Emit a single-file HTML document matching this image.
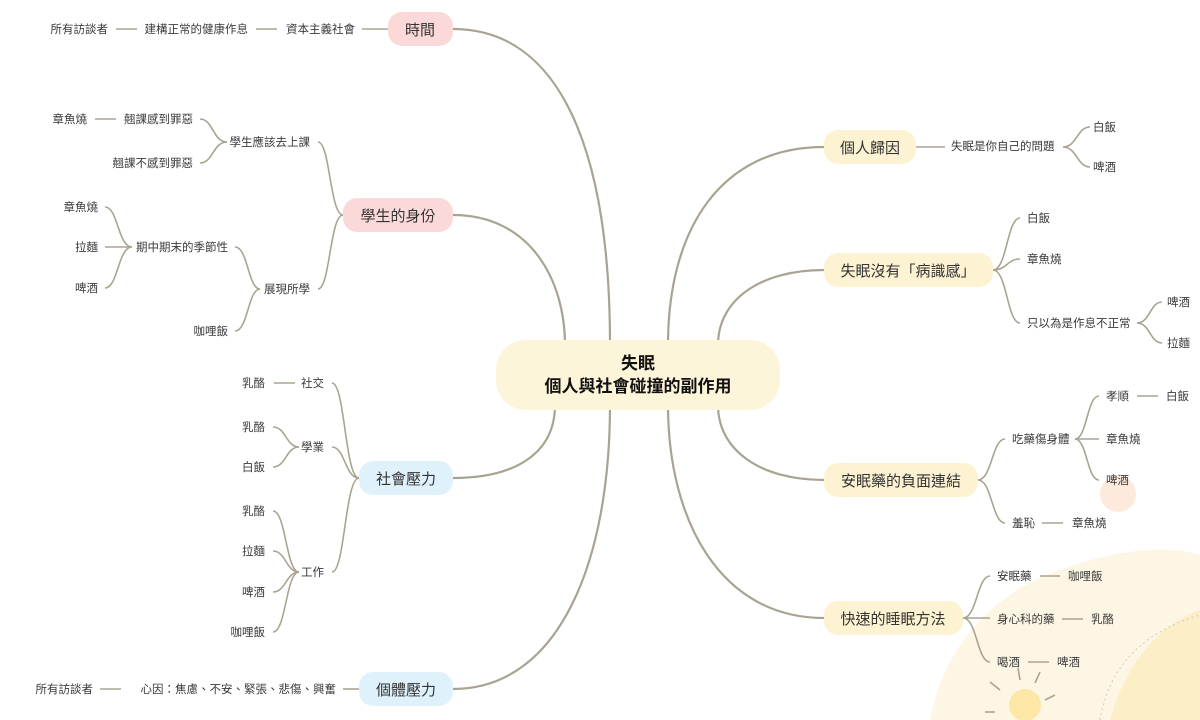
<!DOCTYPE html>
<html><head><meta charset="utf-8">
<style>
html,body{margin:0;padding:0;background:#fff;}
svg{display:block;font-family:"Liberation Sans","Noto Sans CJK TC",sans-serif;}
.l{font-size:11.5px;fill:#3a3a3a;}
.m{font-size:15px;fill:#333;}
.c{font-size:17px;font-weight:bold;fill:#111;}
path,line{fill:none;stroke:#a9a492;stroke-width:1.6;}
.mn{stroke-width:2.2;}
</style></head><body>
<svg width="1200" height="720" viewBox="0 0 1200 720">
<!-- decorations -->
<path d="M930,720 C945,640 1000,590 1060,570 C1120,548 1170,545 1200,555 L1200,720 Z" style="fill:#fdf6e4;stroke:none"/>
<path d="M1110,720 C1130,650 1170,620 1200,610 L1200,720 Z" style="fill:#fcefc8;stroke:none"/>
<path d="M1100,720 C1110,660 1150,630 1200,615" style="stroke:#ccc;stroke-dasharray:2 3;stroke-width:1"/>
<circle cx="1118" cy="494" r="18" style="fill:#fdeadc"/>
<circle cx="1025" cy="705" r="16" style="fill:#fde7a6"/>
<g style="stroke:#fcdb8a;stroke-width:2">
<line x1="1018" y1="668" x2="1020" y2="680"/><line x1="1040" y1="672" x2="1035" y2="683"/>
<line x1="990" y1="682" x2="1000" y2="690"/><line x1="1055" y1="695" x2="1045" y2="700"/>
<line x1="985" y1="712" x2="995" y2="712"/></g>
<!-- main curves -->
<path class="mn" d="M453,29 C560,29 610,150 610,345"/>
<path class="mn" d="M453,215 C530,215 565,280 565,345"/>
<path class="mn" d="M453,478 C520,478 555,450 555,405"/>
<path class="mn" d="M453,689 C560,689 610,560 610,405"/>
<path class="mn" d="M824,147 C720,147 668,230 668,345"/>
<path class="mn" d="M824,270 C760,270 718,300 718,345"/>
<path class="mn" d="M824,480 C760,480 718,450 718,405"/>
<path class="mn" d="M824,618 C720,618 668,520 668,405"/>
<!-- center -->
<rect x="496" y="340" width="284" height="70" rx="30" style="fill:#fdf5d9"/>
<text class="c" x="638" y="369" text-anchor="middle">失眠</text>
<text class="c" x="638" y="392" text-anchor="middle">個人與社會碰撞的副作用</text>
<!-- main nodes -->
<rect x="388" y="12" width="65" height="34" rx="14" style="fill:#fcd9d9"/>
<text class="m" x="420" y="35" text-anchor="middle">時間</text>
<rect x="343" y="198" width="110" height="34" rx="14" style="fill:#fcd9d9"/>
<text class="m" x="398" y="221" text-anchor="middle">學生的身份</text>
<rect x="359" y="461" width="94" height="34" rx="14" style="fill:#dff1fb"/>
<text class="m" x="406" y="484" text-anchor="middle">社會壓力</text>
<rect x="359" y="672" width="94" height="34" rx="14" style="fill:#dff1fb"/>
<text class="m" x="406" y="695" text-anchor="middle">個體壓力</text>
<rect x="824" y="130" width="92" height="34" rx="14" style="fill:#fdf3d3"/>
<text class="m" x="870" y="153" text-anchor="middle">個人歸因</text>
<rect x="824" y="253" width="169" height="34" rx="14" style="fill:#fdf3d3"/>
<text class="m" x="908" y="276" text-anchor="middle">失眠沒有「病識感」</text>
<rect x="824" y="463" width="154" height="34" rx="14" style="fill:#fdf3d3"/>
<text class="m" x="901" y="486" text-anchor="middle">安眠藥的負面連結</text>
<rect x="824" y="601" width="139" height="34" rx="14" style="fill:#fdf3d3"/>
<text class="m" x="893" y="624" text-anchor="middle">快速的睡眠方法</text>

<!-- 時間 -->
<line x1="362" y1="29" x2="388" y2="29"/><line x1="256" y1="29" x2="277" y2="29"/><line x1="116" y1="29" x2="137" y2="29"/>
<text class="l" x="355" y="33" text-anchor="end">資本主義社會</text>
<text class="l" x="248" y="33" text-anchor="end">建構正常的健康作息</text>
<text class="l" x="108" y="33" text-anchor="end">所有訪談者</text>
<!-- 學生 -->
<path d="M343,215 C330,215 330,142 318,142"/><path d="M343,215 C330,215 330,289 318,289"/>
<text class="l" x="310" y="146" text-anchor="end">學生應該去上課</text>
<text class="l" x="310" y="293" text-anchor="end">展現所學</text>
<path d="M227,142 C213,142 213,119 200,119"/><path d="M227,142 C213,142 213,163 200,163"/>
<text class="l" x="193" y="123" text-anchor="end">翹課感到罪惡</text>
<text class="l" x="193" y="167" text-anchor="end">翹課不感到罪惡</text>
<line x1="95" y1="119" x2="116" y2="119"/><text class="l" x="87" y="123" text-anchor="end">章魚燒</text>
<path d="M260,289 C248,289 248,247 235,247"/><path d="M260,289 C248,289 248,331 235,331"/>
<text class="l" x="228" y="251" text-anchor="end">期中期末的季節性</text>
<text class="l" x="228" y="335" text-anchor="end">咖哩飯</text>
<path d="M132,247 C118,247 118,207 105,207"/><path d="M132,247 L105,247"/><path d="M132,247 C118,247 118,288 105,288"/>
<text class="l" x="98" y="211" text-anchor="end">章魚燒</text>
<text class="l" x="98" y="251" text-anchor="end">拉麵</text>
<text class="l" x="98" y="292" text-anchor="end">啤酒</text>
<!-- 社會 -->
<path d="M359,478 C345,478 345,383 332,383"/><path d="M359,478 C345,478 345,447 332,447"/><path d="M359,478 C345,478 345,572 332,572"/>
<text class="l" x="324" y="387" text-anchor="end">社交</text>
<text class="l" x="324" y="451" text-anchor="end">學業</text>
<text class="l" x="324" y="576" text-anchor="end">工作</text>
<line x1="274" y1="383" x2="295" y2="383"/><text class="l" x="265" y="387" text-anchor="end">乳酪</text>
<path d="M299,447 C286,447 286,427 273,427"/><path d="M299,447 C286,447 286,467 273,467"/>
<text class="l" x="265" y="431" text-anchor="end">乳酪</text><text class="l" x="265" y="471" text-anchor="end">白飯</text>
<path d="M299,572 C286,572 286,511 273,511"/><path d="M299,572 C286,572 286,551 273,551"/><path d="M299,572 C286,572 286,592 273,592"/><path d="M299,572 C286,572 286,632 273,632"/>
<text class="l" x="265" y="515" text-anchor="end">乳酪</text><text class="l" x="265" y="555" text-anchor="end">拉麵</text>
<text class="l" x="265" y="596" text-anchor="end">啤酒</text><text class="l" x="265" y="636" text-anchor="end">咖哩飯</text>
<!-- 個體 -->
<line x1="343" y1="689" x2="359" y2="689"/><line x1="100" y1="689" x2="121" y2="689"/>
<text class="l" x="336" y="693" text-anchor="end">心因：焦慮、不安、緊張、悲傷、興奮</text>
<text class="l" x="93" y="693" text-anchor="end">所有訪談者</text>
<!-- 個人歸因 -->
<line x1="916" y1="147" x2="945" y2="147"/>
<text class="l" x="951" y="150">失眠是你自己的問題</text>
<path d="M1063,147 C1077,147 1077,127 1090,127"/><path d="M1063,147 C1077,147 1077,167 1090,167"/>
<text class="l" x="1093" y="131">白飯</text><text class="l" x="1093" y="171">啤酒</text>
<!-- 病識感 -->
<path d="M993,270 C1007,270 1007,218 1020,218"/><path d="M993,270 C1007,270 1007,259 1020,259"/><path d="M993,270 C1007,270 1007,323 1020,323"/>
<text class="l" x="1027" y="222">白飯</text><text class="l" x="1027" y="263">章魚燒</text><text class="l" x="1027" y="327">只以為是作息不正常</text>
<path d="M1137,323 C1150,323 1150,302 1162,302"/><path d="M1137,323 C1150,323 1150,343 1162,343"/>
<text class="l" x="1167" y="306">啤酒</text><text class="l" x="1167" y="347">拉麵</text>
<!-- 安眠藥 -->
<path d="M978,480 C992,480 992,439 1005,439"/><path d="M978,480 C992,480 992,523 1005,523"/>
<text class="l" x="1012" y="443">吃藥傷身體</text><text class="l" x="1012" y="527">羞恥</text>
<path d="M1075,439 C1087,439 1087,396 1099,396"/><path d="M1075,439 L1099,439"/><path d="M1075,439 C1087,439 1087,480 1099,480"/>
<text class="l" x="1106" y="400">孝順</text><text class="l" x="1106" y="443">章魚燒</text><text class="l" x="1106" y="484">啤酒</text>
<line x1="1137" y1="396" x2="1158" y2="396"/><text class="l" x="1166" y="400">白飯</text>
<line x1="1042" y1="523" x2="1063" y2="523"/><text class="l" x="1072" y="527">章魚燒</text>
<!-- 快速 -->
<path d="M963,618 C977,618 977,576 990,576"/><path d="M963,618 L990,618"/><path d="M963,618 C977,618 977,662 990,662"/>
<text class="l" x="997" y="580">安眠藥</text><text class="l" x="997" y="623">身心科的藥</text><text class="l" x="997" y="666">喝酒</text>
<line x1="1040" y1="576" x2="1060" y2="576"/><text class="l" x="1068" y="580">咖哩飯</text>
<line x1="1062" y1="619" x2="1083" y2="619"/><text class="l" x="1091" y="623">乳酪</text>
<line x1="1028" y1="662" x2="1049" y2="662"/><text class="l" x="1057" y="666">啤酒</text>
</svg>
</body></html>
